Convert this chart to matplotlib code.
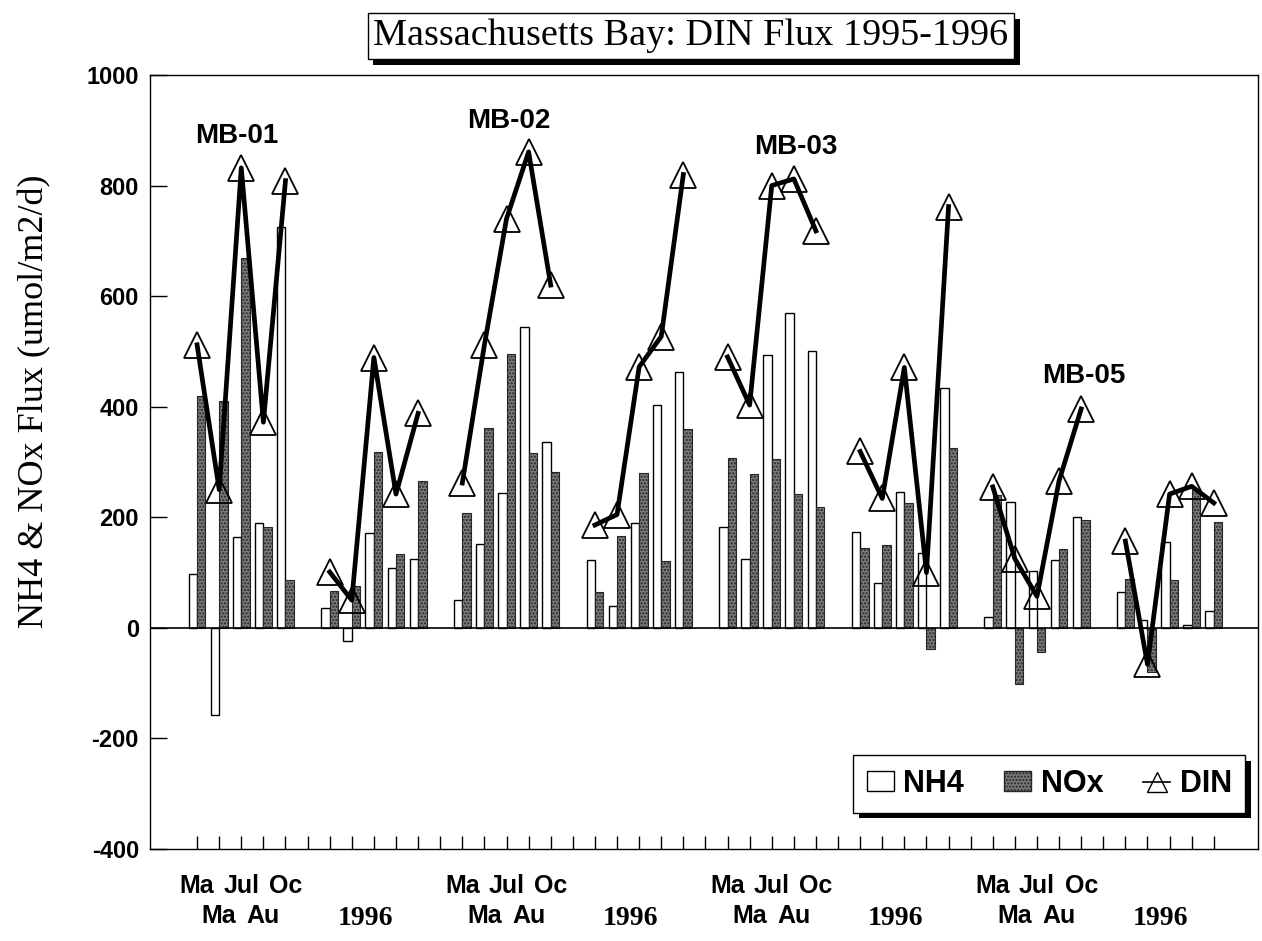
import matplotlib
matplotlib.use('Agg')
import matplotlib.pyplot as plt
import matplotlib.patheffects as pe
from matplotlib.patches import Patch
from matplotlib.lines import Line2D

# months sampled each year (Mar, May, Jul, Aug, Oct)
month_labels = ['Ma', 'Ma', 'Jul', 'Au', 'Oc']
groups = ['MB-01 1995', 'MB-01 1996', 'MB-02 1995', 'MB-02 1996',
          'MB-03 1995', 'MB-03 1996', 'MB-05 1995', 'MB-05 1996']

# fluxes, umol/m2/d (one row per group)
nh4 = [[97, -157, 165, 189, 725],
       [36, -24, 172, 108, 124],
       [51, 151, 244, 544, 337],
       [122, 40, 190, 404, 462],
       [183, 124, 493, 570, 500],
       [173, 82, 245, 136, 434],
       [20, 228, 102, 122, 200],
       [65, 15, 155, 5, 30]]
nox = [[419, 410, 669, 183, 86],
       [66, 75, 318, 134, 265],
       [208, 361, 495, 317, 282],
       [64, 166, 280, 121, 359],
       [307, 279, 305, 242, 218],
       [145, 150, 225, -38, 325],
       [240, -102, -44, 143, 195],
       [88, -80, 86, 250, 192]]
din = [[512, 250, 832, 372, 809],
       [101, 50, 489, 242, 388],
       [262, 512, 740, 861, 620],
       [186, 205, 472, 527, 820],
       [490, 403, 800, 812, 718],
       [319, 234, 471, 100, 762],
       [255, 125, 57, 266, 396],
       [157, -66, 242, 256, 226]]

stations = ['MB-01', 'MB-02', 'MB-03', 'MB-05']
station_xy = [(3.8, 890), (16.1, 917), (29.1, 870), (42.1, 456)]

plt.rcParams['hatch.color'] = '#262626'
plt.rcParams['hatch.linewidth'] = 1.1
plt.rcParams['axes.unicode_minus'] = False

fig = plt.figure(figsize=(12.62, 9.41), dpi=100)
ax = fig.add_axes([150 / 1262, 1 - 849 / 941, 1108 / 1262, 774 / 941])

sans = 'Liberation Sans'
serif = 'Liberation Serif'
w = 0.38
nox_color = '#7c7c7c'

for g in range(len(groups)):
    xs = [2 + 6 * g + m for m in range(5)]
    ax.bar([x - w / 2 for x in xs], nh4[g], width=w, color='white',
           edgecolor='black', linewidth=1.0, zorder=2)
    ax.bar([x + w / 2 for x in xs], nox[g], width=w, color=nox_color,
           edgecolor='#262626', linewidth=0.8, hatch='.....', zorder=2)
    ax.plot(xs, din[g], color='black', lw=3.4, marker='^', markersize=19,
            markerfacecolor='none', markeredgecolor='black',
            markeredgewidth=1.3, zorder=4)

ax.axhline(0, color='black', lw=1.2, zorder=3)

ax.set_xlim(-0.13, 50)
ax.set_ylim(-400, 1000)
ax.set_yticks(range(-400, 1001, 200))
ax.set_xticks(range(2, 49))
ax.set_xticklabels([])
ax.tick_params(axis='y', direction='in', length=12, width=1.0, pad=8,
               labelsize=17)
ax.tick_params(axis='x', direction='in', length=9.5, width=1.0)
for lab in ax.get_yticklabels():
    lab.set_fontfamily(sans)
    lab.set_fontweight('bold')
for s in ax.spines.values():
    s.set_linewidth(1.0)

ax.set_ylabel('NH4 & NOx Flux (umol/m2/d)', fontsize=26, family=serif)
ax.yaxis.set_label_coords(-0.089, 0.578)

# month labels under the 1995 groups, year label under the 1996 groups
trans = ax.get_xaxis_transform()
for g in range(0, len(groups), 2):
    for m, lab in enumerate(month_labels):
        yy = -0.048 if m % 2 == 0 else -0.087
        ax.text(2 + 6 * g + m, yy, lab, transform=trans, ha='center',
                va='center', fontsize=18, family=sans, fontweight='bold',
                clip_on=False)
    ax.text(2 + 6 * (g + 1) + 2 - 0.4, -0.09, '1996', transform=trans,
            ha='center', va='center', fontsize=20, family=serif,
            fontweight='bold', clip_on=False)

for name, (x, y) in zip(stations, station_xy):
    ax.text(x, y, name, ha='center', va='center', fontsize=20, family=sans,
            fontweight='bold', zorder=5)

shadow = [pe.SimplePatchShadow(offset=(4, -4), shadow_rgbFace='black',
                               alpha=1.0), pe.Normal()]

t = fig.text(691 / 1262, 1 - 36 / 941, 'Massachusetts Bay: DIN Flux 1995-1996',
             ha='center', va='center', fontsize=27.5, family=serif,
             bbox=dict(boxstyle='square,pad=0.15', fc='white', ec='black',
                       lw=1.0))
t.get_bbox_patch().set_path_effects(shadow)

handles = [Patch(facecolor='white', edgecolor='black', linewidth=1.0),
           Patch(facecolor=nox_color, edgecolor='#262626', hatch='.....'),
           Line2D([], [], color='black', lw=1.2, marker='^', markersize=14,
                  markerfacecolor='none', markeredgecolor='black')]
leg = ax.legend(handles, ['NH4', 'NOx', 'DIN'], ncol=3, loc='upper left',
                bbox_to_anchor=(853 / 1262, 1 - 755 / 941),
                bbox_transform=fig.transFigure, frameon=True, fancybox=False,
                framealpha=1, edgecolor='black', borderpad=0.45,
                handlelength=0.9, handleheight=0.6, handletextpad=0.3,
                columnspacing=1.3, borderaxespad=0,
                prop={'family': sans, 'weight': 'bold', 'size': 22})
leg.get_frame().set_linewidth(1.0)
leg.get_frame().set_path_effects(shadow)
leg.set_zorder(10)

fig.savefig('out.png', dpi=100)
